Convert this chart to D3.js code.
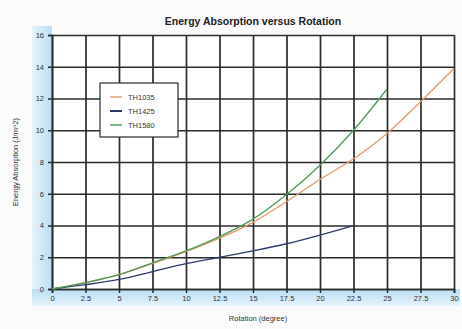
<!DOCTYPE html>
<html lang="en">
<head>
<meta charset="utf-8">
<title>Energy Absorption versus Rotation</title>
<script src="https://cdn.jsdelivr.net/npm/d3@7"></script>
<style>
  body { margin: 0; background: #fbfbfb; }
  svg { display: block; font-family: "Liberation Sans", Arial, sans-serif; }
</style>
</head>
<body>
<script>
// rotation values (degree)
var rotation = [0, 2.5, 5, 7.5, 10, 12.5, 15, 17.5, 20, 22.5, 25, 27.5, 30];

// energy absorption per specimen
var th1035 = [0, 0.4, 0.9, 1.6, 2.35, 3.2, 4.2, 5.5, 6.9, 8.2, 9.8, 11.8, 13.9];
var th1425 = [0, 0.27, 0.6, 1.1, 1.6, 2.0, 2.4, 2.85, 3.4, 4.0];
var th1580 = [0, 0.4, 0.9, 1.65, 2.4, 3.3, 4.4, 5.95, 7.8, 10.0, 12.6];

var seriesNames = ["TH1035", "TH1425", "TH1580"];
var seriesColors = ["#e8976a", "#2c3b6b", "#4e9a58"];
var seriesValues = [th1035, th1425, th1580];

var xTicks = [0, 2.5, 5, 7.5, 10, 12.5, 15, 17.5, 20, 22.5, 25, 27.5, 30];
var yTicks = [0, 2, 4, 6, 8, 10, 12, 14, 16];

var w = 462, h = 329;
var plotL = 52, plotR = 454, plotT = 35, plotB = 289;

var svg = d3.select("body").append("svg")
  .attr("width", w)
  .attr("height", h);

var defs = svg.append("defs");
var gv = defs.append("linearGradient").attr("id", "bandV")
  .attr("x1", 0).attr("x2", 1).attr("y1", 0).attr("y2", 0);
gv.append("stop").attr("offset", "0%").attr("stop-color", "#e6f3fb");
gv.append("stop").attr("offset", "100%").attr("stop-color", "#b9def4");
var gh = defs.append("linearGradient").attr("id", "bandH")
  .attr("x1", 0).attr("x2", 0).attr("y1", 0).attr("y2", 1);
gh.append("stop").attr("offset", "0%").attr("stop-color", "#b9def4");
gh.append("stop").attr("offset", "100%").attr("stop-color", "#e6f3fb");

// light blue bands behind the tick labels
svg.append("rect")
  .attr("x", 32).attr("y", 26)
  .attr("width", plotL - 32).attr("height", plotB - 26)
  .attr("fill", "url(#bandV)");
svg.append("rect")
  .attr("x", 32).attr("y", plotB)
  .attr("width", 428).attr("height", 17)
  .attr("fill", "url(#bandH)");

var xScale = d3.scaleLinear().domain([0, 30]).range([plotL, plotR]);
var yScale = d3.scaleLinear().domain([0, 16]).range([plotB, plotT]);

svg.append("rect")
  .attr("x", plotL).attr("y", plotT)
  .attr("width", plotR - plotL).attr("height", plotB - plotT)
  .attr("fill", "#ffffff");

// grid
svg.append("g")
  .attr("transform", "translate(0," + plotB + ")")
  .call(d3.axisBottom(xScale).tickValues(xTicks).tickSize(-(plotB - plotT)).tickFormat(""))
  .call(function(g) {
    g.select(".domain").remove();
    g.selectAll("line").attr("stroke", "#2b2b2b").attr("stroke-width", 1.7);
  });
svg.append("g")
  .attr("transform", "translate(" + plotL + ",0)")
  .call(d3.axisLeft(yScale).tickValues(yTicks).tickSize(-(plotR - plotL)).tickFormat(""))
  .call(function(g) {
    g.select(".domain").remove();
    g.selectAll("line").attr("stroke", "#2b2b2b").attr("stroke-width", 1.7);
  });

// axes with short outer ticks
var xAxis = d3.axisBottom(xScale).tickValues(xTicks).tickSize(4).tickPadding(3)
  .tickFormat(function(d) { return d; });
svg.append("g")
  .attr("transform", "translate(0," + plotB + ")")
  .call(xAxis)
  .call(function(g) {
    g.select(".domain").attr("stroke", "#2b2b2b").attr("stroke-width", 1.7);
    g.selectAll("line").attr("stroke", "#2b2b2b").attr("stroke-width", 1.5);
    g.selectAll("text").attr("font-size", 7.5).attr("fill", "#333");
  });

var yAxis = d3.axisLeft(yScale).tickValues(yTicks).tickSize(4).tickPadding(4);
svg.append("g")
  .attr("transform", "translate(" + plotL + ",0)")
  .call(yAxis)
  .call(function(g) {
    g.select(".domain").attr("stroke", "#2b2b2b").attr("stroke-width", 1.7);
    g.selectAll("line").attr("stroke", "#2b2b2b").attr("stroke-width", 1.5);
    g.selectAll("text").attr("font-size", 7.5).attr("fill", "#333");
  });

// curves
var line = d3.line()
  .x(function(d) { return xScale(d[0]); })
  .y(function(d) { return yScale(d[1]); })
  .curve(d3.curveMonotoneX);

seriesValues.forEach(function(vals, i) {
  var pts = vals.map(function(v, j) { return [rotation[j], v]; });
  svg.append("path")
    .attr("d", line(pts))
    .attr("fill", "none")
    .attr("stroke", seriesColors[i])
    .attr("stroke-width", 1.3);
});

// legend
var lg = svg.append("g").attr("transform", "translate(100,83)");
lg.append("rect")
  .attr("width", 78).attr("height", 54)
  .attr("fill", "#ffffff")
  .attr("stroke", "#2b2b2b")
  .attr("stroke-width", 1.2);
seriesNames.forEach(function(name, i) {
  var yy = 14 + i * 14;
  lg.append("line")
    .attr("x1", 10).attr("x2", 22)
    .attr("y1", yy).attr("y2", yy)
    .attr("stroke", seriesColors[i])
    .attr("stroke-width", i == 1 ? 2 : 1.4);
  lg.append("text")
    .attr("x", 28).attr("y", yy + 2.5)
    .attr("font-size", 7.5)
    .attr("fill", "#333")
    .text(name);
});

// titles
svg.append("text")
  .text("Energy Absorption versus Rotation")
  .attr("x", 253).attr("y", 25)
  .attr("text-anchor", "middle")
  .attr("font-size", 10.5)
  .attr("font-weight", "bold")
  .attr("fill", "#222");

svg.append("text")
  .text("Rotation (degree)")
  .attr("x", 258).attr("y", 321)
  .attr("text-anchor", "middle")
  .attr("font-size", 7.5)
  .attr("fill", "#333");

svg.append("text")
  .text("Energy Absorption (J/m^2)")
  .attr("transform", "translate(18,162) rotate(-90)")
  .attr("text-anchor", "middle")
  .attr("font-size", 7.5)
  .attr("fill", "#333");
</script>
</body>
</html>
